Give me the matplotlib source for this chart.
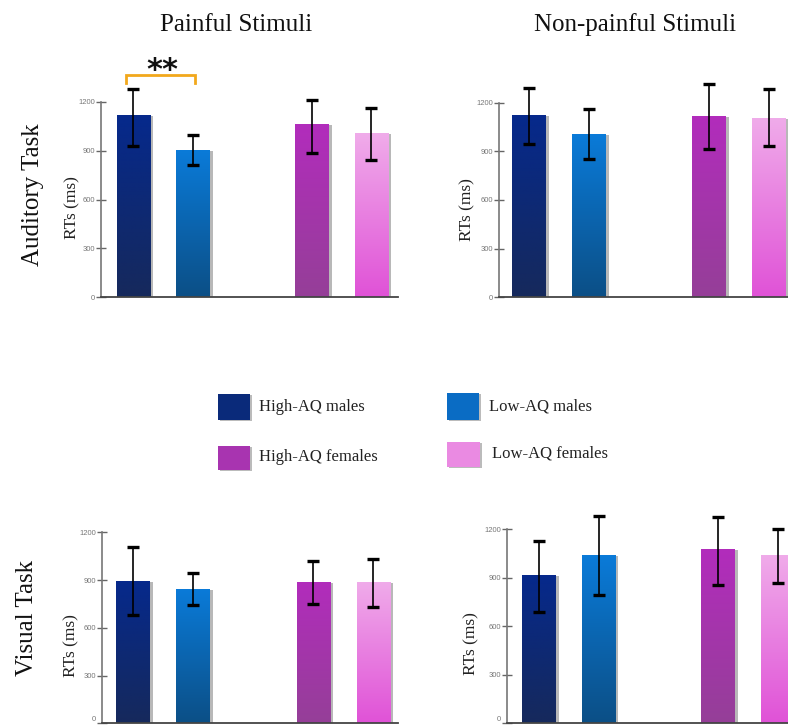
import numpy as np
import matplotlib
matplotlib.use('Agg')
import matplotlib.pyplot as plt
from matplotlib.patches import Rectangle
from matplotlib.colors import to_rgb
import matplotlib.patheffects as pe

# ---------------- data ----------------
groups = ['High-AQ males', 'Low-AQ males', 'High-AQ females', 'Low-AQ females']
col_titles = ['Painful Stimuli', 'Non-painful Stimuli']
row_titles = ['Auditory Task', 'Visual Task']
yticks = [0, 300, 600, 900, 1200]
ylabel = 'RTs (ms)'
sig_label = '**'

aud_pain_mean = [1120, 905, 1063, 1007]
aud_pain_hi = [1280, 997, 1212, 1161]
aud_pain_lo = [929, 812, 884, 843]

aud_nonpain_mean = [1124, 1007, 1118, 1106]
aud_nonpain_hi = [1291, 1159, 1315, 1284]
aud_nonpain_lo = [947, 855, 913, 935]

vis_pain_mean = [896, 842, 886, 886]
vis_pain_hi = [1110, 942, 1022, 1034]
vis_pain_lo = [680, 743, 748, 733]

vis_nonpain_mean = [917, 1041, 1076, 1041]
vis_nonpain_hi = [1126, 1282, 1278, 1200]
vis_nonpain_lo = [687, 794, 856, 866]

# ---------------- style ----------------
grad_top = ['#06298c', '#0a7bd9', '#b22cbc', '#f0acea']
grad_bot = ['#16295c', '#0c4f86', '#953f98', '#e052d7']
legend_col = ['#0a2a7a', '#0a6cc4', '#a834b0', '#ea8ae2']
xpos = [0, 1, 3, 4]
barw = 0.56

W, H = 788, 725
fig = plt.figure(figsize=(W / 100, H / 100), dpi=100)
serif = 'Liberation Serif'


def add_axes_px(left, right, y0, y1200, ytop=1400):
    pxper = (y0 - y1200) / 1200.0
    top_px = y0 - ytop * pxper
    return fig.add_axes([left / W, 1 - y0 / H, (right - left) / W, (y0 - top_px) / H])


def draw_panel(ax, means, hi, lo, xlim, lab_xy, lift_zero=False):
    means = np.array(means, float)
    hi = np.array(hi, float)
    lo = np.array(lo, float)
    bars = ax.bar(xpos, means, width=barw, color=legend_col, edgecolor='none', zorder=2)
    for b, ct, cb in zip(bars, grad_top, grad_bot):
        b.set_path_effects([pe.SimplePatchShadow(offset=(2.2, -0.8), shadow_rgbFace='#9a9a9a', alpha=0.7),
                            pe.Normal()])
        x0, w, h = b.get_x(), b.get_width(), b.get_height()
        g = np.linspace(0, 1, 200)[:, None]
        cols = (1 - g) * np.array(to_rgb(ct)) + g * np.array(to_rgb(cb))
        im = ax.imshow(cols[:, None, :], extent=(x0, x0 + w, 0, h), aspect='auto',
                       origin='upper', zorder=2.5, interpolation='bilinear')
        im.set_clip_path(b)
    ax.errorbar(xpos, means, yerr=[means - lo, hi - means], fmt='none', ecolor='black',
                elinewidth=1.2, capsize=4.5, capthick=2.4, zorder=4)
    ax.set_xlim(*xlim)
    ax.set_ylim(0, 1400)
    ax.set_yticks(yticks)
    ax.set_yticklabels([str(t) for t in yticks], fontfamily='Liberation Sans')
    ax.set_xticks([])
    for s in ['top', 'right']:
        ax.spines[s].set_visible(False)
    ax.spines['left'].set_bounds(0, 1200)
    ax.spines['left'].set_color('#777777')
    ax.spines['left'].set_linewidth(1.2)
    ax.spines['bottom'].set_color('#444444')
    ax.spines['bottom'].set_linewidth(1.3)
    ax.tick_params(axis='y', direction='inout', length=7, width=1, color='#666666',
                   labelsize=5.5, labelcolor='#777777', pad=1)
    if lift_zero:
        ax.get_yticklabels()[0].set_va('bottom')
    ax.set_ylabel(ylabel, fontfamily=serif, fontsize=12.5, va='center', color='#222222')
    ax.yaxis.set_label_coords(*lab_xy)
    ax.patch.set_alpha(0)


ax1 = add_axes_px(101, 398, 297, 102)
draw_panel(ax1, aud_pain_mean, aud_pain_hi, aud_pain_lo, (-0.546, 4.45), (-0.097, 0.46 * 1200 / 1400))
ax2 = add_axes_px(499, 788, 297.3, 102.7)
draw_panel(ax2, aud_nonpain_mean, aud_nonpain_hi, aud_nonpain_lo, (-0.5, 4.32), (-0.11, 0.45 * 1200 / 1400))
ax3 = add_axes_px(102, 398, 723.3, 532.3)
draw_panel(ax3, vis_pain_mean, vis_pain_hi, vis_pain_lo, (-0.52, 4.41), (-0.102, 0.405 * 1200 / 1400),
           lift_zero=True)
ax4 = add_axes_px(507, 788, 723.3, 529.3)
draw_panel(ax4, vis_nonpain_mean, vis_nonpain_hi, vis_nonpain_lo, (-0.536, 4.17), (-0.125, 0.41 * 1200 / 1400),
           lift_zero=True)

# significance bracket (between first two groups, painful auditory)
bx0, bx1 = xpos[0] - 0.126, xpos[1] + 0.03
ax1.plot([bx0, bx0, bx1, bx1], [1317, 1366, 1366, 1317], color='#f2a81c', lw=2,
         clip_on=False, zorder=5, solid_joinstyle='miter')
ax1.text((xpos[0] + xpos[1]) / 2 - 0.02, 1340, sig_label, ha='center', va='baseline',
         fontsize=22, fontweight='bold', color='#111111', clip_on=False, zorder=5)

# column / row titles
fig.text(236 / W, 1 - 25 / H, col_titles[0], ha='center', va='center', fontsize=18,
         fontfamily=serif, color='#111111')
fig.text(635 / W, 1 - 25 / H, col_titles[1], ha='center', va='center', fontsize=18,
         fontfamily=serif, color='#111111')
fig.text(33 / W, 1 - 195 / H, row_titles[0], ha='center', va='center', rotation=90,
         fontsize=18, fontfamily=serif, color='#111111')
fig.text(27 / W, 1 - 618 / H, row_titles[1], ha='center', va='center', rotation=90,
         fontsize=18, fontfamily=serif, color='#111111')

# legend (2 x 2 layout)
leg_patch = [(218, 394, 32, 26), (447, 393, 32, 27), (218, 446, 32, 24), (447, 442, 33, 25)]
leg_text = [(259, 407), (489, 406), (259, 457), (492, 453)]
for name, c, (px, py, pw, ph), (tx, ty) in zip(groups, legend_col, leg_patch, leg_text):
    fig.add_artist(Rectangle((px / W + 2 / W, 1 - (py + ph) / H - 1 / H), pw / W, ph / H,
                             transform=fig.transFigure, facecolor='#bbbbbb', edgecolor='none'))
    fig.add_artist(Rectangle((px / W, 1 - (py + ph) / H), pw / W, ph / H,
                             transform=fig.transFigure, facecolor=c, edgecolor='none'))
    fig.text(tx / W, 1 - ty / H, name, ha='left', va='center', fontsize=12,
             fontfamily=serif, color='#222222')

fig.savefig('out.png', dpi=100, facecolor='white')
